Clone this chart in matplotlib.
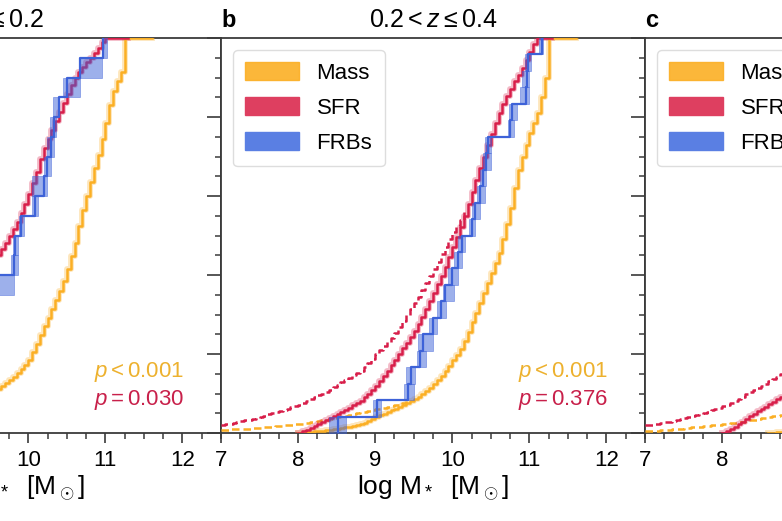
import matplotlib
matplotlib.use("Agg")
import matplotlib.pyplot as pyplot
from matplotlib.patches import Patch
from matplotlib.ticker import MultipleLocator
import numpy as np

pyplot.rcParams['font.family'] = ['Liberation Sans', 'DejaVu Sans']
pyplot.rcParams['mathtext.fontset'] = 'custom'
pyplot.rcParams['mathtext.rm'] = 'Liberation Sans'
pyplot.rcParams['mathtext.it'] = 'Liberation Sans:italic'
pyplot.rcParams['mathtext.bf'] = 'Liberation Sans:bold'
pyplot.rcParams['xtick.labelsize'] = 16
pyplot.rcParams['axes.linewidth'] = 1.3
pyplot.rcParams['axes.edgecolor'] = '#3a3a3a'

# colours
c_mass = '#FBAF24'
c_sfr = '#D81E4A'
c_frb = '#3D62D8'

# %%
# cumulative fractions, one value every 0.05 dex from the start mass
step = 0.05

# panel a (z <= 0.2), only the visible part
mass_a_start = 9.5
mass_a = [0.100, 0.105, 0.112, 0.119, 0.126, 0.134, 0.142, 0.151, 0.161, 0.172,
          0.185, 0.205, 0.225, 0.247, 0.270, 0.292, 0.315, 0.337, 0.360, 0.385,
          0.415, 0.447, 0.480, 0.525, 0.565, 0.600, 0.635, 0.670, 0.705, 0.745,
          0.785, 0.830, 0.865, 0.890, 0.915, 1.0]
mass_a_end = 11.6
sfr_a_start = 9.5
sfr_a = [0.420, 0.435, 0.450, 0.465, 0.481, 0.498, 0.516, 0.535, 0.557, 0.580,
         0.605, 0.632, 0.662, 0.693, 0.722, 0.745, 0.768, 0.790, 0.812, 0.835,
         0.858, 0.880, 0.898, 0.913, 0.926, 0.938, 0.950, 0.962, 0.975, 0.990, 1.0]
sfr_a_end = 11.3
frb_a_mass = [8.30, 8.70, 8.90, 9.10, 9.25, 9.35, 9.50, 9.58, 9.82, 9.83,
              9.91, 10.09, 10.20, 10.24, 10.30, 10.33, 10.40, 10.50, 10.67, 10.97]
frb_a_lo = [8.20, 8.62, 8.82, 9.02, 9.18, 9.28, 9.40, 9.45, 9.78, 9.80,
            9.88, 10.05, 10.05, 10.20, 10.24, 10.28, 10.32, 10.45, 10.67, 10.96]
frb_a_hi = [8.40, 8.78, 8.98, 9.18, 9.32, 9.42, 9.58, 9.82, 9.87, 9.87,
            9.95, 10.12, 10.24, 10.30, 10.33, 10.36, 10.39, 10.67, 10.96, 11.02]

# panel b (0.2 < z <= 0.4)
mass_b_start = 8.0
mass_b = [0.000, 0.001, 0.002, 0.003, 0.004, 0.005, 0.006, 0.007, 0.008, 0.009,
          0.010, 0.012, 0.014, 0.016, 0.018, 0.020, 0.022, 0.026, 0.030, 0.035,
          0.040, 0.045, 0.049, 0.053, 0.057, 0.062, 0.066, 0.070, 0.075, 0.080,
          0.085, 0.091, 0.098, 0.106, 0.115, 0.124, 0.134, 0.145, 0.157, 0.170,
          0.184, 0.198, 0.213, 0.232, 0.255, 0.280, 0.305, 0.330, 0.355, 0.380,
          0.405, 0.430, 0.455, 0.490, 0.530, 0.570, 0.620, 0.665, 0.700, 0.730,
          0.760, 0.785, 0.810, 0.850, 0.900, 1.0]
mass_b_end = 11.6
mass_b_dash_start = 7.0
mass_b_dash = [0.008, 0.008, 0.009, 0.009, 0.010, 0.010, 0.011, 0.011, 0.012, 0.012,
               0.013, 0.014, 0.015, 0.016, 0.017, 0.018, 0.019, 0.020, 0.021, 0.022,
               0.023, 0.024, 0.026, 0.027, 0.029, 0.030, 0.032, 0.034, 0.036, 0.038,
               0.040, 0.042, 0.044, 0.046, 0.048, 0.050, 0.052, 0.054, 0.056, 0.058,
               0.060, 0.062, 0.064, 0.066, 0.068, 0.070, 0.072, 0.076, 0.080]
sfr_b_start = 8.0
sfr_b = [0.000, 0.004, 0.008, 0.013, 0.018, 0.022, 0.027, 0.032, 0.037, 0.042,
         0.048, 0.053, 0.058, 0.064, 0.070, 0.076, 0.082, 0.090, 0.100, 0.110,
         0.120, 0.132, 0.145, 0.158, 0.172, 0.186, 0.200, 0.214, 0.228, 0.243,
         0.259, 0.276, 0.294, 0.313, 0.333, 0.354, 0.376, 0.398, 0.421, 0.445,
         0.470, 0.495, 0.522, 0.550, 0.580, 0.610, 0.640, 0.670, 0.700, 0.730,
         0.758, 0.785, 0.810, 0.833, 0.853, 0.872, 0.890, 0.907, 0.925, 0.945,
         0.965, 0.985, 1.0]
sfr_b_end = 11.3
sfr_b_dash_start = 7.0
sfr_b_dash = [0.020, 0.022, 0.024, 0.026, 0.028, 0.030, 0.032, 0.034, 0.036, 0.038,
              0.041, 0.044, 0.047, 0.050, 0.053, 0.056, 0.059, 0.062, 0.065, 0.068,
              0.071, 0.075, 0.080, 0.085, 0.090, 0.095, 0.100, 0.105, 0.110, 0.116,
              0.122, 0.128, 0.134, 0.140, 0.146, 0.152, 0.158, 0.167, 0.177, 0.188,
              0.199, 0.210, 0.220, 0.230, 0.241, 0.254, 0.268, 0.283, 0.298, 0.313,
              0.329, 0.345, 0.362, 0.379, 0.397, 0.415, 0.433, 0.452, 0.471, 0.490,
              0.508, 0.525, 0.540, 0.560]
frb_b_mass = [8.52, 9.02, 9.42, 9.46, 9.58, 9.62, 9.75, 9.85, 9.90, 10.00,
              10.08, 10.12, 10.25, 10.30, 10.36, 10.40, 10.44, 10.46, 10.75, 10.78,
              10.96, 10.97, 10.98, 11.16]
frb_b_lo = [8.40, 8.97, 9.38, 9.40, 9.54, 9.55, 9.70, 9.80, 9.88, 9.95,
            10.02, 10.08, 10.22, 10.26, 10.32, 10.36, 10.40, 10.42, 10.72, 10.74,
            10.88, 10.90, 10.94, 11.12]
frb_b_hi = [8.62, 9.07, 9.50, 9.52, 9.66, 9.75, 9.80, 9.92, 10.02, 10.08,
            10.12, 10.16, 10.30, 10.36, 10.42, 10.44, 10.50, 10.50, 10.80, 10.84,
            11.00, 11.00, 11.02, 11.18]

# panel c, only the visible part
mass_c_start = 8.6
mass_c = [0.000, 0.001, 0.002, 0.003, 0.004, 0.005, 0.006]
mass_c_dash_start = 7.0
mass_c_dash = [0.005, 0.005, 0.006, 0.006, 0.007, 0.007, 0.008, 0.009, 0.010, 0.011,
               0.012, 0.013, 0.014, 0.015, 0.016, 0.017, 0.018, 0.019, 0.020, 0.021,
               0.022, 0.023, 0.025, 0.026, 0.028, 0.029, 0.031, 0.032, 0.034, 0.035,
               0.037, 0.038, 0.040, 0.042, 0.044, 0.046, 0.048, 0.050, 0.052]
sfr_c_start = 8.0
sfr_c = [0.000, 0.004, 0.010, 0.016, 0.022, 0.028, 0.035, 0.042, 0.049, 0.055,
         0.061, 0.067, 0.073, 0.079, 0.085, 0.091, 0.097, 0.103, 0.110]
sfr_c_dash_start = 7.0
sfr_c_dash = [0.020, 0.021, 0.022, 0.024, 0.025, 0.027, 0.029, 0.031, 0.033, 0.035,
              0.037, 0.040, 0.042, 0.045, 0.048, 0.051, 0.054, 0.057, 0.060, 0.064,
              0.068, 0.072, 0.077, 0.082, 0.087, 0.092, 0.098, 0.103, 0.109, 0.114,
              0.120, 0.125, 0.131, 0.137, 0.143, 0.149, 0.155, 0.161, 0.168]

titles = [r'$z\leq0.2$', r'$0.2<z\leq0.4$', r'$0.4<z\leq0.6$']
letters = ['a', 'b', 'c']
p_mass = [r'$p<0.001$', r'$p<0.001$', None]
p_sfr = [r'$p=0.030$', r'$p=0.376$', None]


# %%
def cdf_line(ax, start, vals, color, dashed=False, end=None):
    x = list(start + step * np.arange(len(vals)))
    y = list(vals)
    if end is not None:
        x.append(end)
        y.append(vals[-1])
    if dashed:
        ax.step(x, y, where='post', color=color, lw=1.8, ls=(0, (3.0, 1.6)), zorder=3)
    else:
        ax.step(x, y, where='post', color=color, lw=4.2, alpha=0.3, zorder=3)
        ax.step(x, y, where='post', color=color, lw=1.8, zorder=4)


def frb_line(ax, mass, lo, hi):
    n = len(mass)
    for i in range(n):
        ax.fill_between([lo[i], hi[i]], i / n, (i + 1) / n, facecolor=c_frb,
                        alpha=0.5, edgecolor=c_frb, lw=0.6, zorder=5)
    x = [mass[0]] + list(mass)
    y = [0.0] + list(np.arange(1, n + 1) / n)
    ax.step(x, y, where='post', color=c_frb, lw=1.6, zorder=6)


def style_axes(ax, i):
    ax.set_xlim(7, 12.5)
    ax.set_ylim(0, 1)
    ax.set_xticks(range(7, 13))
    ax.xaxis.set_minor_locator(MultipleLocator(0.25))
    ax.set_yticks(np.arange(0, 1.01, 0.2))
    ax.yaxis.set_minor_locator(MultipleLocator(0.05))
    ax.tick_params(axis='x', which='major', direction='out', length=7, width=1.2,
                   color='#3a3a3a', pad=5)
    ax.tick_params(axis='y', which='major', direction='out', length=10, width=1.2,
                   color='#3a3a3a', labelleft=False)
    ax.tick_params(which='minor', direction='out', length=4.2, width=1.1, color='#3a3a3a')
    ax.set_title(titles[i], fontsize=18, pad=7)
    ax.set_title(letters[i], loc='left', fontsize=17, fontweight='bold', pad=8)
    ax.set_xlabel(r'$\log\,\mathrm{M}_*\ \ [\mathrm{M}_\odot]$', fontsize=19, labelpad=2)
    if p_mass[i] is not None:
        ax.text(0.913, 0.155, p_mass[i], color='#EDB12E', fontsize=16,
                ha='right', va='center', transform=ax.transAxes)
        ax.text(0.913, 0.084, p_sfr[i], color='#C8204A', fontsize=16,
                ha='right', va='center', transform=ax.transAxes)
    if i > 0:
        handles = [Patch(facecolor=c_mass, edgecolor=c_mass, alpha=0.9),
                   Patch(facecolor='#DE3F60', edgecolor='#DE3F60'),
                   Patch(facecolor='#5A7FE3', edgecolor='#5A7FE3')]
        leg = ax.legend(handles, ['Mass', 'SFR', 'FRBs'], loc='upper left',
                        bbox_to_anchor=(0.0, 1.0), fontsize=16, handlelength=2.4,
                        handleheight=0.85, handletextpad=0.8, labelspacing=0.6,
                        borderpad=0.55, borderaxespad=0.55, framealpha=1,
                        edgecolor='#dddddd', fancybox=True)
        leg.set_zorder(10)


# %%
if __name__ == "__main__":
    fig = pyplot.figure(figsize=(7.82, 5.21), dpi=100)
    bottom = 88 / 521
    height = 395 / 521
    width = 424 / 782
    lefts = [(221 - 424) / 782, 221 / 782, 645 / 782]
    axes = [fig.add_axes([l, bottom, width, height]) for l in lefts]

    ax_a, ax_b, ax_c = axes

    cdf_line(ax_a, mass_a_start, mass_a, c_mass, end=mass_a_end)
    cdf_line(ax_a, sfr_a_start, sfr_a, c_sfr, end=sfr_a_end)
    frb_line(ax_a, frb_a_mass, frb_a_lo, frb_a_hi)

    cdf_line(ax_b, mass_b_dash_start, mass_b_dash, c_mass, dashed=True)
    cdf_line(ax_b, sfr_b_dash_start, sfr_b_dash, c_sfr, dashed=True)
    cdf_line(ax_b, mass_b_start, mass_b, c_mass, end=mass_b_end)
    cdf_line(ax_b, sfr_b_start, sfr_b, c_sfr, end=sfr_b_end)
    frb_line(ax_b, frb_b_mass, frb_b_lo, frb_b_hi)

    cdf_line(ax_c, mass_c_dash_start, mass_c_dash, c_mass, dashed=True)
    cdf_line(ax_c, sfr_c_dash_start, sfr_c_dash, c_sfr, dashed=True)
    cdf_line(ax_c, mass_c_start, mass_c, c_mass)
    cdf_line(ax_c, sfr_c_start, sfr_c, c_sfr)

    for i, ax in enumerate(axes):
        style_axes(ax, i)

    fig.savefig('out.png', dpi=100)
